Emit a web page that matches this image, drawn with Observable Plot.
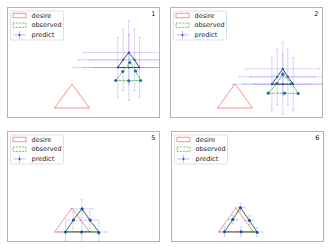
<!DOCTYPE html>
<html><head><meta charset="utf-8">
<script src="https://cdn.jsdelivr.net/npm/d3@7"></script>
<script src="https://cdn.jsdelivr.net/npm/@observablehq/plot@0.6"></script>
<style>
body{margin:0;background:#fff;}
#wrap{position:relative;width:330px;height:248px;overflow:hidden;}
.cell{position:absolute;}
</style></head><body><div id="wrap"></div>
<script>
// ---- data ----
const panelLabels = ["1", "2", "5", "6"];
const legendLabels = ["desire", "observed", "predict"];
const desireX = [4.7, 8.2, 6.45];
const desireY = [0.95, 0.95, 3.35];
// point order: apex, mid-right, base-right, base-mid, base-left, mid-left
const obsX1 = [12.23, 12.80, 13.30, 12.13, 10.83, 11.53];
const obsY1 = [5.50, 4.65, 3.70, 3.67, 3.70, 4.60];
const predX1 = [12.13, 12.70, 13.20, 12.13, 11.03, 11.57];
const predY1 = [6.50, 5.77, 5.00, 5.00, 5.00, 5.77];
const xerr1 = [4.5, 4.5, 4.5, 4.5, 4.45, 4.5];
const yerr1 = [3.2, 3.05, 3.0, 3.3, 3.0, 3.05];

const obsX2 = [11.23, 12.12, 12.77, 11.40, 9.77, 10.65];
const obsY2 = [4.33, 3.40, 2.40, 2.43, 2.43, 3.40];
const predX2 = [11.23, 11.73, 12.27, 11.23, 10.13, 10.67];
const predY2 = [4.87, 4.07, 3.33, 3.33, 3.33, 4.07];
const xerr2 = [3.7, 3.75, 3.9, 3.9, 3.9, 3.75];
const yerr2 = [2.65, 2.8, 2.65, 3.0, 2.65, 2.8];

const obsX3 = [7.47, 8.27, 9.13, 7.40, 5.80, 6.60];
const obsY3 = [3.27, 2.15, 0.87, 0.95, 0.95, 2.15];
const predX3 = [7.43, 8.23, 9.13, 7.43, 5.80, 6.57];
const predY3 = [3.27, 2.13, 0.95, 0.97, 0.97, 2.13];
const xerr3 = [1.05, 0.9, 0.85, 0.85, 0.8, 0.7];
const yerr3 = [0.9, 0.85, 0.9, 0.95, 0.9, 0.85];

const obsX4 = [6.90, 7.80, 8.57, 6.97, 5.30, 6.13];
const obsY4 = [3.37, 2.10, 0.90, 0.97, 0.97, 2.20];
const predX4 = [6.88, 7.78, 8.55, 6.95, 5.30, 6.13];
const predY4 = [3.40, 2.12, 0.95, 0.97, 0.97, 2.20];
const xerr4 = [0.45, 0.45, 0.55, 0.45, 0.5, 0.45];
const yerr4 = [0.45, 0.45, 0.45, 0.45, 0.45, 0.45];

const xDomain = [0, 15.2];
const yDomain = [0, 11];

// ---- layout ----
const cells = [
  {left: 0, top: 0, ml: 7, mr: 6, mt: 7, mb: 7},
  {left: 165, top: 0, ml: 5, mr: 8, mt: 7, mb: 7},
  {left: 0, top: 124, ml: 7, mr: 6, mt: 7, mb: 7},
  {left: 165, top: 124, ml: 6, mr: 7, mt: 7, mb: 7}
];
const series = [
  [obsX1, obsY1, predX1, predY1, xerr1, yerr1],
  [obsX2, obsY2, predX2, predY2, xerr2, yerr2],
  [obsX3, obsY3, predX3, predY3, xerr3, yerr3],
  [obsX4, obsY4, predX4, predY4, xerr4, yerr4]
];

const FONT = "DejaVu Sans, sans-serif";
const cRed = "#ff8f8f", cGreen = "#6cc46c", cBar = "#6a6aff", cObsDot = "#1f6f9f", cPredDot = "#2a3ccc", cPredLine = "#30305a";

const hcap = {draw(ctx, size) { const r = Math.sqrt(size) / 2; ctx.moveTo(-r, 0); ctx.lineTo(r, 0); }};
const vcap = {draw(ctx, size) { const r = Math.sqrt(size) / 2; ctx.moveTo(0, -r); ctx.lineTo(0, r); }};

const closed = (xs, ys) => { const a = xs.map((x, i) => ({x, y: ys[i]})); a.push(a[0]); return a; };

const wrap = document.getElementById("wrap");
cells.forEach((c, k) => {
  const [ox, oy, px, py, xe, ye] = series[k];
  const pts = px.map((x, i) => ({x, y: py[i], xe: xe[i], ye: ye[i]}));
  const obs = ox.map((x, i) => ({x, y: oy[i]}));
  const plot = Plot.plot({
    width: 165, height: 124,
    marginLeft: c.ml, marginRight: c.mr, marginTop: c.mt, marginBottom: c.mb,
    x: {domain: xDomain, axis: null},
    y: {domain: yDomain, axis: null},
    style: {fontFamily: FONT, background: "white"},
    marks: [
      Plot.line(closed(desireX, desireY), {x: "x", y: "y", stroke: cRed, strokeWidth: 1}),
      Plot.link(pts, {x1: d => d.x - d.xe, x2: d => d.x + d.xe, y1: "y", y2: "y", stroke: cBar, strokeOpacity: 0.28, strokeWidth: 1, clip: "frame"}),
      Plot.link(pts, {x1: "x", x2: "x", y1: d => d.y - d.ye, y2: d => d.y + d.ye, stroke: cBar, strokeOpacity: 0.28, strokeWidth: 1, clip: "frame"}),
      Plot.dot(pts.flatMap(d => [{x: d.x - d.xe, y: d.y}, {x: d.x + d.xe, y: d.y}]), {x: "x", y: "y", symbol: vcap, r: 1.1, fill: "none", stroke: cBar, strokeOpacity: 0.35, strokeWidth: 1, clip: "frame"}),
      Plot.dot(pts.flatMap(d => [{x: d.x, y: d.y - d.ye}, {x: d.x, y: d.y + d.ye}]), {x: "x", y: "y", symbol: hcap, r: 1.1, fill: "none", stroke: cBar, strokeOpacity: 0.35, strokeWidth: 1, clip: "frame"}),
      Plot.line(closed(px, py), {x: "x", y: "y", stroke: cPredLine, strokeWidth: 0.9}),
      Plot.line(closed(ox, oy), {x: "x", y: "y", stroke: cGreen, strokeWidth: 1, strokeDasharray: "2.5,1.5"}),
      Plot.dot(obs, {x: "x", y: "y", r: 1.6, fill: cObsDot}),
      Plot.dot(pts, {x: "x", y: "y", r: 1.0, fill: cPredDot}),
      Plot.frame({stroke: "#b4b4b4", strokeWidth: 1}),
      Plot.text([panelLabels[k]], {frameAnchor: "top-right", text: d => d, dx: -4, dy: 4, fontSize: 6.5, fill: "#111", lineAnchor: "top"})
    ]
  });
  const div = document.createElement("div");
  div.className = "cell";
  div.style.left = c.left + "px";
  div.style.top = c.top + "px";
  div.appendChild(plot);
  wrap.appendChild(div);

  // legend inside frame (upper-left)
  const svg = d3.select(plot);
  const g = svg.append("g").attr("transform", `translate(${c.ml + 3.5},${c.mt + 4})`)
    .attr("text-anchor", "start");
  g.append("rect").attr("width", 53).attr("height", 29).attr("rx", 1.5)
    .attr("fill", "white").attr("fill-opacity", 0.85).attr("stroke", "#d8d8d8").attr("stroke-width", 0.8);
  const rows = [4.5, 14.2, 23.9];
  g.append("rect").attr("x", 2.5).attr("y", rows[0] - 2.2).attr("width", 13).attr("height", 4.4)
    .attr("fill", "none").attr("stroke", cRed).attr("stroke-width", 1);
  g.append("rect").attr("x", 2.5).attr("y", rows[1] - 2.2).attr("width", 13).attr("height", 4.4)
    .attr("fill", "none").attr("stroke", cGreen).attr("stroke-width", 1).attr("stroke-dasharray", "2,1.2");
  g.append("line").attr("x1", 3).attr("x2", 15).attr("y1", rows[2]).attr("y2", rows[2])
    .attr("stroke", cBar).attr("stroke-opacity", 0.45);
  g.append("line").attr("x1", 9).attr("x2", 9).attr("y1", rows[2] - 4).attr("y2", rows[2] + 4)
    .attr("stroke", cBar).attr("stroke-opacity", 0.45);
  g.append("circle").attr("cx", 9).attr("cy", rows[2]).attr("r", 1).attr("fill", cPredDot);
  legendLabels.forEach((t, i) => {
    g.append("text").attr("x", 21).attr("y", rows[i]).attr("dy", "0.35em").attr("text-anchor", "start")
      .attr("font-size", 6.5).attr("font-family", FONT).attr("fill", "#222").text(t);
  });
});
</script></body></html>
